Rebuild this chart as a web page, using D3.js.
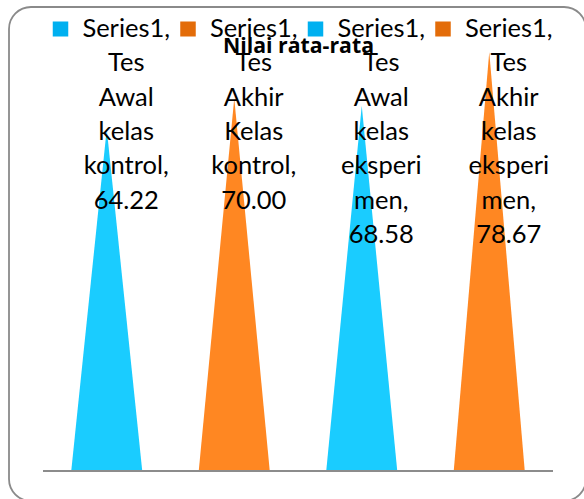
<!DOCTYPE html>
<html>
<head>
<meta charset="utf-8">
<script src="https://cdn.jsdelivr.net/npm/d3@7"></script>
<style>
  html, body { margin: 0; padding: 0; background: #fff; }
  svg text { font-family: Lato, "Open Sans", sans-serif; }
</style>
</head>
<body>
<script>
const seriesName = "Series1"
const categories = ["Tes Awal kelas kontrol", "Tes Akhir Kelas kontrol",
                    "Tes Awal kelas eksperimen", "Tes Akhir kelas eksperimen"]
const values = [64.22, 70.00, 68.58, 78.67]
// how the data labels wrap in the original
const labelLines = [
  ["Tes", "Awal", "kelas", "kontrol,"],
  ["Tes", "Akhir", "Kelas", "kontrol,"],
  ["Tes", "Awal", "kelas", "eksperi", "men,"],
  ["Tes", "Akhir", "kelas", "eksperi", "men,"]
]
const yTicks = [0, 80]

const barColors = ["#1accff", "#ff8722", "#1accff", "#ff8722"]
const keyColors = ["#00b0f0", "#e36c09", "#00b0f0", "#e36c09"]

const width = 584, height = 499
const plot = {left: 43, right: 553, top: 45, bottom: 471}

const svg = d3.select("body").append("svg")
    .attr("width", width)
    .attr("height", height)

// chart frame
svg.append("rect")
    .attr("x", 9).attr("y", 7)
    .attr("width", 577).attr("height", 494)
    .attr("rx", 22).attr("ry", 22)
    .attr("fill", "#fff")
    .attr("stroke", "#8a8a8a")
    .attr("stroke-width", 1.8)

const x = d3.scaleBand()
    .domain(categories)
    .range([plot.left, plot.right])
    .paddingInner(0.443)
    .paddingOuter(0.2215)

const y = d3.scaleLinear()
    .domain(d3.extent(yTicks))
    .range([plot.bottom, plot.top])

// cone-ish bars
svg.append("g").selectAll("path")
  .data(categories)
  .enter().append("path")
    .attr("fill", (d, i) => barColors[i])
    .attr("d", (d, i) => {
      const x0 = x(d), x1 = x(d) + x.bandwidth(), cx = x(d) + x.bandwidth() / 2
      return "M" + x0 + "," + y(0) + "L" + cx + "," + y(values[i]) + "L" + x1 + "," + y(0) + "Z"
    })

// category axis line
svg.append("line")
    .attr("x1", plot.left).attr("x2", plot.right)
    .attr("y1", y(0)).attr("y2", y(0))
    .attr("stroke", "#8c8c8c")
    .attr("stroke-width", 2)

svg.append("text")
    .attr("x", 298.5).attr("y", 52.5)
    .attr("text-anchor", "middle")
    .attr("font-weight", "bold")
    .attr("font-size", 20.5)
    .attr("textLength", 151)
    .attr("lengthAdjust", "spacingAndGlyphs")
    .attr("fill", "#000")
    .style("font-family", "'Open Sans', Lato, sans-serif")
    .text("Nilai rata-rata")

// data labels with legend keys
const lab = svg.append("g").selectAll("g")
  .data(categories)
  .enter().append("g")
    .attr("transform", d => "translate(" + (x(d) + x.bandwidth() / 2) + ",0)")

lab.append("rect")
    .attr("x", -54).attr("y", 21.5)
    .attr("width", 15.5).attr("height", 15)
    .attr("fill", (d, i) => keyColors[i])

lab.each(function (d, i) {
  const lines = [seriesName + ","].concat(labelLines[i], [values[i].toFixed(2)])
  d3.select(this).selectAll("text")
    .data(lines)
    .enter().append("text")
      .attr("x", 19.5)
      .attr("y", (t, k) => 37 + k * 34.3)
      .attr("text-anchor", "middle")
      .attr("font-size", 25.5)
      .attr("fill", "#000")
      .text(t => t)
})
</script>
</body>
</html>
